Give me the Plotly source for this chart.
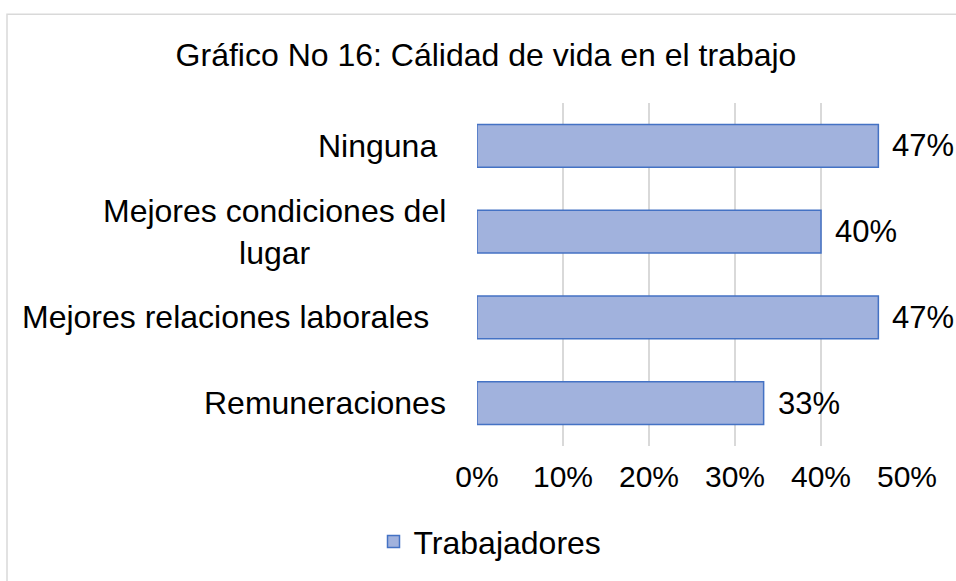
import plotly.graph_objects as go

# Data
categories = ["Remuneraciones", "Mejores relaciones laborales",
              "Mejores condiciones del<br>lugar", "Ninguna"]
values = [0.3333, 0.4667, 0.40, 0.4667]
series_name = "Trabajadores"
tick_vals = [0, 0.1, 0.2, 0.3, 0.4, 0.5]
tick_text = ["0%", "10%", "20%", "30%", "40%", "50%"]

W, H = 956, 581
# plot area in pixels
PX_L, PX_R, PX_T, PX_B = 477, 907, 103, 451
FONT = "Liberation Sans, Arial, sans-serif"


def px_x(p):
    return (p - PX_L) / (PX_R - PX_L)


def px_y(p):
    return (PX_B - p) / (PX_B - PX_T)


fig = go.Figure()

fig.add_trace(go.Bar(
    x=values,
    y=categories,
    orientation="h",
    name=series_name,
    width=0.5,
    marker=dict(color="#a1b2dd", line=dict(color="#4472c4", width=1.5)),
    cliponaxis=False,
    showlegend=True,
))

# data labels, a bit away from the bar end
for cat, v in zip(categories, values):
    fig.add_annotation(
        x=v, xref="x", y=cat, yref="y",
        text=f"{v:.0%}", showarrow=False, xanchor="left", xshift=12,
        font=dict(family=FONT, size=31, color="#000000"),
    )

# category labels (centered lines, right edge aligned; the original
# labels for two rows carry a trailing space, hence the small shift)
label_shift = {"Ninguna": -9, "Mejores relaciones laborales": -17}
for cat in categories:
    fig.add_annotation(
        x=px_x(448), xref="paper", y=cat, yref="y",
        text=cat, showarrow=False, xanchor="right", align="center",
        xshift=label_shift.get(cat, 0),
        font=dict(family=FONT, size=32, color="#000000"),
    )

# chart border (light gray)
fig.add_shape(
    type="rect", xref="paper", yref="paper",
    x0=px_x(7), x1=px_x(980), y0=px_y(610), y1=px_y(13),
    line=dict(color="#d9d9d9", width=1.5), fillcolor="rgba(0,0,0,0)",
    layer="below",
)

fig.update_layout(
    width=W,
    height=H,
    margin=dict(l=PX_L, r=W - PX_R, t=PX_T, b=H - PX_B),
    paper_bgcolor="white",
    plot_bgcolor="white",
    font=dict(family=FONT, size=31, color="#000000"),
    title=dict(
        text="Gráfico No 16: Cálidad de vida en el trabajo",
        x=486 / W, xanchor="center", y=1 - 55 / H, yanchor="middle",
        font=dict(family=FONT, size=32, color="#000000"),
    ),
    bargap=0.5,
    legend=dict(
        orientation="h", x=px_x(490), xanchor="center",
        y=px_y(548), yanchor="middle",
        font=dict(family=FONT, size=32, color="#000000"),
        itemwidth=30,
    ),
    xaxis=dict(
        range=[0, 0.5],
        tickvals=tick_vals,
        ticktext=tick_text,
        showgrid=True,
        gridcolor="#d9d9d9",
        gridwidth=1.5,
        zeroline=False,
        showline=False,
        ticks="",
        tickfont=dict(family=FONT, size=30, color="#000000"),
        ticklabelstandoff=10,
    ),
    yaxis=dict(
        showticklabels=False,
        showgrid=False,
        zeroline=False,
        showline=False,
        ticks="",
    ),
)

# drop the default page margin so the figure sits at the window corner
fig.write_html(
    "out.html",
    config={"displayModeBar": False},
    post_script="document.body.style.margin='0';document.body.style.overflow='hidden';",
)
